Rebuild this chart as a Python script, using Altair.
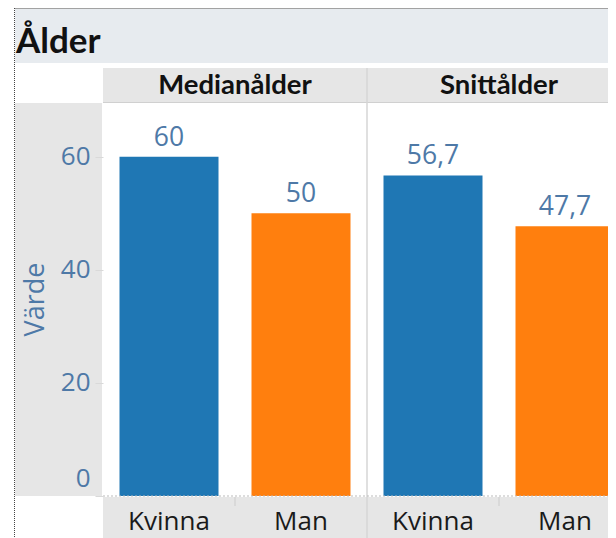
import altair as alt
import pandas as pd

# ---- data ----
measures = ["Medianålder", "Snittålder"]
genders = ["Kvinna", "Man"]
median_values = [60, 50]
mean_values = [56.7, 47.7]
y_ticks = [0, 20, 40, 60]
title_text = "Ålder"
y_title = "Värde"
bar_colors = ["#1f77b4", "#ff7f0e"]


def fmt(v):
    s = ("%g" % v)
    return s.replace(".", ",")


rows = []
for m, vals in zip(measures, [median_values, mean_values]):
    for g, v in zip(genders, vals):
        rows.append({"matt": m, "kon": g, "varde": v, "etikett": fmt(v)})
df = pd.DataFrame(rows)
hdr = pd.DataFrame({"matt": measures})
one = pd.DataFrame({"d": [0]})

LABEL_BLUE = "#4e79a7"
GRAY = "#e6e6e6"
LINE = "#d6d6d6"

W, H = 505, 394

x_enc = alt.X("matt:N", sort=measures, axis=None,
              scale=alt.Scale(range=[0, 528], paddingInner=0, paddingOuter=0))
xoff_enc = alt.XOffset("kon:N", sort=genders,
                       scale=alt.Scale(paddingInner=0.25, paddingOuter=0.125))


def rect(x, x2, y, y2, color):
    return alt.Chart(one).mark_rect(color=color).encode(
        x=alt.value(x), x2=alt.value(x2), y=alt.value(y), y2=alt.value(y2))


title_band = rect(-88, W, -93, -39, "#e7ebef")
header_band = rect(0, W, -34, 0, GRAY)
yaxis_band = rect(-88, -1, 1, H, GRAY)
xaxis_band = rect(0, W, H + 1, H + 42, GRAY)

header_line = alt.Chart(one).mark_rule(color="#d0d0d0", strokeWidth=1).encode(
    x=alt.value(0), x2=alt.value(W), y=alt.value(0.5))

dotted_left = alt.Chart(one).mark_rule(color="#444", strokeDash=[1, 1], strokeWidth=1).encode(
    x=alt.value(-88.5), y=alt.value(-94), y2=alt.value(H + 42))
dotted_top = alt.Chart(one).mark_rule(color="#444", strokeDash=[1, 1], strokeWidth=1).encode(
    x=alt.value(-88.5), x2=alt.value(W), y=alt.value(-93.5))

title = alt.Chart(one).mark_text(
    text=title_text, font="Lato", fontSize=35, fontWeight="bold", color="#111",
    align="left", baseline="alphabetic").encode(x=alt.value(-87), y=alt.value(-49))

facet_sep = alt.Chart(hdr).transform_filter(
    alt.datum.matt == measures[1]).mark_rule(color=LINE, strokeWidth=1.5).encode(
    x=alt.X("matt:N", sort=measures, bandPosition=0, axis=None),
    y=alt.value(-34), y2=alt.value(H + 42))

mid_ticks = alt.Chart(hdr).mark_rule(color="#cccccc", strokeWidth=1).encode(
    x=alt.X("matt:N", sort=measures, bandPosition=0.5, axis=None),
    y=alt.value(H + 1), y2=alt.value(H + 10))

header_text = alt.Chart(hdr).mark_text(
    font="Lato", fontSize=27.5, fontWeight="bold", color="#111", baseline="middle").encode(
    x=alt.X("matt:N", sort=measures, axis=None), y=alt.value(-16), text="matt:N")

bars = alt.Chart(df).mark_bar(size=99).encode(
    x=x_enc, xOffset=xoff_enc,
    y=alt.Y("varde:Q", scale=alt.Scale(domain=[0, 69.7], nice=False),
            axis=alt.Axis(values=y_ticks, title=y_title, grid=False, domain=False,
                          zindex=2,
                          labelFont="Open Sans", labelFontSize=26, labelColor=LABEL_BLUE,
                          labelPadding=5, tickSize=8, tickColor="#d9d9d9",
                          labelFlush=True, labelFlushOffset=-5,
                          titleFont="Open Sans", titleFontSize=27, titleFontWeight="normal",
                          titleColor=LABEL_BLUE, titleAngle=270, titleX=-68, titleY=197,
                          titleAlign="center", titleBaseline="middle")),
    color=alt.Color("kon:N", sort=genders,
                    scale=alt.Scale(domain=genders, range=bar_colors), legend=None))

zero_line = alt.Chart(one).mark_rule(color="#bbbbbb", strokeDash=[2, 2], strokeWidth=1).encode(
    y=alt.datum(0), x=alt.value(0), x2=alt.value(W))

value_labels = alt.Chart(df).mark_text(
    font="Open Sans", fontSize=26.5, fontWeight=500, color=LABEL_BLUE,
    baseline="alphabetic", dy=-11).encode(
    x=x_enc, xOffset=xoff_enc, y=alt.Y("varde:Q"), text="etikett:N")

cat_labels = alt.Chart(df).mark_text(
    font="Open Sans", fontSize=26, color="#1a1a1a", baseline="middle").encode(
    x=x_enc, xOffset=xoff_enc, y=alt.value(H + 26), text="kon:N")

chart = alt.layer(
    title_band, header_band, yaxis_band, xaxis_band, dotted_left, dotted_top,
    title, header_line, facet_sep, mid_ticks, header_text,
    bars, zero_line, value_labels, cat_labels
).properties(
    width=W, height=H,
    autosize=alt.AutoSizeParams(type="none"),
    padding={"left": 95, "top": 94, "right": 0, "bottom": 42},
    background="white",
).configure_view(stroke=None)

chart.save("out.html", embed_options={"renderer": "svg", "actions": False})
